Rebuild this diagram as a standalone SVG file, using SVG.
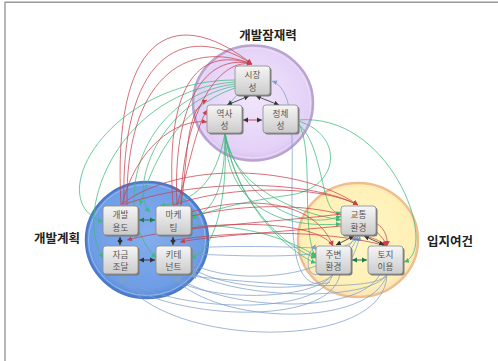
<svg xmlns="http://www.w3.org/2000/svg" width="498" height="361" viewBox="0 0 498 361">
<style>
  .lbl{font-family:"Noto Sans CJK KR","Noto Sans",sans-serif;font-weight:700;font-size:12.5px;fill:#222;text-anchor:middle}
  .nt{font-family:"Noto Sans CJK KR","Noto Sans",sans-serif;font-size:8.6px;fill:#555;text-anchor:middle}
  .box{fill:url(#gBox);stroke:#8a8a8a;stroke-width:0.8}
  .sh{fill:#7a7a7a}
  .r path{fill:none;stroke:#c8404c;stroke-width:0.75;marker-end:url(#aR)}
  .g path{fill:none;stroke:#3dba7c;stroke-width:0.75;marker-end:url(#aG)}
  .b path{fill:none;stroke:#7f9fca;stroke-width:0.75;marker-end:url(#aB)}
  .d path{fill:none;stroke-width:0.9;marker-start:url(#aK);marker-end:url(#aK)}
  .dg path{fill:none;stroke:#1f7a4e;stroke-width:1;marker-start:url(#aDG);marker-end:url(#aDG)}
</style>
<defs>
  <linearGradient id="gBox" x1="0" y1="0" x2="0" y2="1">
    <stop offset="0" stop-color="#f6f6f6"/>
    <stop offset="1" stop-color="#cbcbcb"/>
  </linearGradient>
  <radialGradient id="gPur" cx="0.5" cy="0.45" r="0.55">
    <stop offset="0" stop-color="#f1e6fc"/>
    <stop offset="0.85" stop-color="#e4d1f7"/>
    <stop offset="1" stop-color="#d8c1ef"/>
  </radialGradient>
  <radialGradient id="gBlu" cx="0.5" cy="0.45" r="0.55">
    <stop offset="0" stop-color="#84aeee"/>
    <stop offset="0.85" stop-color="#6e9de6"/>
    <stop offset="1" stop-color="#5c8bd8"/>
  </radialGradient>
  <radialGradient id="gYel" cx="0.5" cy="0.45" r="0.55">
    <stop offset="0" stop-color="#fff7c8"/>
    <stop offset="0.85" stop-color="#fff0b4"/>
    <stop offset="1" stop-color="#fde3b4"/>
  </radialGradient>
  <marker id="aR" markerUnits="userSpaceOnUse" markerWidth="6" markerHeight="6" refX="5" refY="3" orient="auto"><path d="M0,0.5 L5,3 L0,5.5z" fill="#c8404c"/></marker>
  <marker id="aG" markerUnits="userSpaceOnUse" markerWidth="6" markerHeight="6" refX="5" refY="3" orient="auto"><path d="M0,0.5 L5,3 L0,5.5z" fill="#3dba7c"/></marker>
  <marker id="aB" markerUnits="userSpaceOnUse" markerWidth="6" markerHeight="6" refX="5" refY="3" orient="auto"><path d="M0,0.5 L5,3 L0,5.5z" fill="#7f9fca"/></marker>
  <marker id="aK" markerUnits="userSpaceOnUse" markerWidth="6" markerHeight="6" refX="5" refY="3" orient="auto-start-reverse"><path d="M0,0.5 L5,3 L0,5.5z" fill="#333"/></marker>
  <marker id="aDG" markerUnits="userSpaceOnUse" markerWidth="6" markerHeight="6" refX="5" refY="3" orient="auto-start-reverse"><path d="M0,0.5 L5,3 L0,5.5z" fill="#1f7a4e"/></marker>
</defs>

<rect width="498" height="361" fill="#fff"/>
<!-- frame -->
<path d="M5,361 V2.2 H498" fill="none" stroke="#9a9a9a" stroke-width="1.4"/>

<!-- group circles -->
<g id="circles">
  <ellipse cx="253" cy="103" rx="60" ry="57.5" fill="url(#gPur)" stroke="#b9a4cf" stroke-width="2.5"/>
  <ellipse cx="253" cy="103" rx="57.5" ry="55" fill="none" stroke="#ecdff8" stroke-width="1"/>
  <ellipse cx="147" cy="240" rx="61" ry="58" fill="url(#gBlu)" stroke="#4b7bc8" stroke-width="2.5"/>
  <ellipse cx="147" cy="240" rx="58.5" ry="55.5" fill="none" stroke="#95b9f0" stroke-width="1"/>
  <ellipse cx="358" cy="240" rx="60" ry="57" fill="url(#gYel)" stroke="#eebf8c" stroke-width="2.5"/>
  <ellipse cx="358" cy="240" rx="57.5" ry="54.5" fill="none" stroke="#fbe6c6" stroke-width="1"/>
</g>

<g id="connectors">
  <g class="b">
    <path d="M333,274 C320,318 170,312 120,277"/>
    <path d="M387,274 C386,352 168,350 120,277"/>
    <path d="M340,274 C330,330 160,318 120,279"/>
    <path d="M333,274 C315,302 200,302 173,277"/>
    <path d="M387,274 C372,328 218,326 173,277"/>
    <path d="M380,274 C360,315 230,312 176,277"/>
    <path d="M333,274 C320,293 230,292 191,268"/>
    <path d="M387,274 C372,302 240,300 191,272"/>
    <path d="M316,266 C280,280 220,280 191,263"/>
    <path d="M316,248 C270,246 220,246 191,248"/>
    <path d="M358,235 C345,262 250,256 191,254"/>
    <path d="M387,274 C380,290 300,288 191,276"/>
    <path d="M330,282 C300,292 292,262 292,200 C292,140 296,90 272,81"/>
    <path d="M340,256 C348,248 352,242 356,236"/>
    <path d="M345,258 C350,250 355,244 358,236"/>
    <path d="M350,262 C355,252 358,244 360,236"/>
    <path d="M320,274 C300,280 310,240 316,250"/>
  </g>
  <g class="g">
    <path d="M235,80 C110,80 40,200 103,222"/>
    <path d="M235,82 C120,90 72,210 103,258"/>
    <path d="M235,84 C140,95 108,210 156,258"/>
    <path d="M235,86 C160,100 128,190 150,212"/>
    <path d="M235,88 C175,108 150,170 140,205"/>
    <path d="M225,133 C225,185 215,212 191,218"/>
    <path d="M225,133 C228,200 215,250 191,258"/>
    <path d="M225,133 C232,185 290,212 341,220"/>
    <path d="M225,133 C235,205 290,250 316,258"/>
    <path d="M225,133 C238,215 300,258 316,263"/>
    <path d="M225,133 C226,190 260,230 341,224"/>
    <path d="M225,133 C240,200 300,232 341,216"/>
    <path d="M225,133 C218,170 205,200 160,206"/>
    <path d="M298,120 C392,112 440,250 404,262"/>
    <path d="M298,122 C315,150 300,230 316,258"/>
    <path d="M298,121 C345,135 340,188 290,195 C240,202 205,212 191,218"/>
    <path d="M191,225 C250,225 290,240 316,256"/>
    <path d="M298,124 C325,145 320,220 341,212"/>
    <path d="M237,95 L228,105"/>
  </g>
  <g class="r">
    <path d="M121,205 C112,40 170,0 252,64"/>
    <path d="M124,205 C120,60 180,18 252,64"/>
    <path d="M127,205 C125,80 185,38 252,64"/>
    <path d="M173,205 C165,90 195,45 252,64"/>
    <path d="M177,205 C172,105 205,52 252,64"/>
    <path d="M181,205 C182,120 215,58 252,64"/>
    <path d="M122,205 C135,150 175,118 207,122"/>
    <path d="M181,205 C188,160 185,110 207,100"/>
    <path d="M177,205 C190,165 195,130 207,110"/>
    <path d="M122,204 C180,160 300,165 358,205"/>
    <path d="M125,204 C200,178 310,180 358,205"/>
    <path d="M173,205 C230,185 320,185 358,205"/>
    <path d="M191,212 C250,195 315,200 333,246"/>
    <path d="M191,216 C270,198 370,205 387,246"/>
    <path d="M175,240 C230,232 320,228 387,246"/>
    <path d="M191,228 C250,220 320,225 333,246"/>
    <path d="M341,214 C280,222 180,226 127,240"/>
    <path d="M341,226 C280,232 210,236 180,242"/>
    <path d="M372,221 C384,226 388,236 387,246"/>
    <path d="M362,235 C372,238 380,240 386,246"/>
  </g>
  <g class="d">
    <path d="M249,96 L227,105" stroke="#444"/>
    <path d="M256,96 L279,105" stroke="#444"/>
    <path d="M243,120 L262,120" stroke="#b8404a"/>
    <path d="M120,237 L120,245" stroke="#333"/>
    <path d="M173,237 L173,245" stroke="#333"/>
    <path d="M139,260 L155,260" stroke="#333"/>
    <path d="M354,236 L336,245" stroke="#444"/>
    <path d="M364,236 L384,245" stroke="#444"/>
  </g>
  <g class="dg">
    <path d="M139,220 L155,220"/>
    <path d="M352,260 L367,260"/>
  </g>
</g>

<!-- nodes -->
<g id="n-sijang"><rect class="sh" x="236.5" y="67.5" width="35" height="29" rx="3"/><rect class="box" x="235" y="66" width="35" height="29" rx="3"/><text class="nt" x="252.5" y="78">시장</text><text class="nt" x="252.5" y="90.5">성</text></g>
<g id="n-yeoksa"><rect class="sh" x="208.5" y="106.5" width="35" height="28" rx="3"/><rect class="box" x="207" y="105" width="35" height="28" rx="3"/><text class="nt" x="224.5" y="116.5">역사</text><text class="nt" x="224.5" y="129">성</text></g>
<g id="n-jeongche"><rect class="sh" x="264.5" y="106.5" width="35" height="28" rx="3"/><rect class="box" x="263" y="105" width="35" height="28" rx="3"/><text class="nt" x="280.5" y="116.5">정체</text><text class="nt" x="280.5" y="129">성</text></g>
<g id="n-gaebal"><rect class="sh" x="104.5" y="207.5" width="35" height="29" rx="3"/><rect class="box" x="103" y="206" width="35" height="29" rx="3"/><text class="nt" x="120.5" y="218">개발</text><text class="nt" x="120.5" y="230.5">용도</text></g>
<g id="n-marketing"><rect class="sh" x="157.5" y="207.5" width="35" height="29" rx="3"/><rect class="box" x="156" y="206" width="35" height="29" rx="3"/><text class="nt" x="173.5" y="218">마케</text><text class="nt" x="173.5" y="230.5">팅</text></g>
<g id="n-jageum"><rect class="sh" x="104.5" y="247.5" width="35" height="28" rx="3"/><rect class="box" x="103" y="246" width="35" height="28" rx="3"/><text class="nt" x="120.5" y="257.5">자금</text><text class="nt" x="120.5" y="270">조달</text></g>
<g id="n-tenant"><rect class="sh" x="157.5" y="247.5" width="35" height="28" rx="3"/><rect class="box" x="156" y="246" width="35" height="28" rx="3"/><text class="nt" x="173.5" y="257.5">키테</text><text class="nt" x="173.5" y="270">넌트</text></g>
<g id="n-gyotong"><rect class="sh" x="342.5" y="207.5" width="35" height="29" rx="3"/><rect class="box" x="341" y="206" width="35" height="29" rx="3"/><text class="nt" x="358.5" y="218">교통</text><text class="nt" x="358.5" y="230.5">환경</text></g>
<g id="n-jubyeon"><rect class="sh" x="317.5" y="247.5" width="35" height="28" rx="3"/><rect class="box" x="316" y="246" width="35" height="28" rx="3"/><text class="nt" x="333.5" y="257.5">주변</text><text class="nt" x="333.5" y="270">환경</text></g>
<g id="n-toji"><rect class="sh" x="369.5" y="247.5" width="35" height="28" rx="3"/><rect class="box" x="368" y="246" width="35" height="28" rx="3"/><text class="nt" x="385.5" y="257.5">토지</text><text class="nt" x="385.5" y="270">이용</text></g>

<!-- group titles -->
<text class="lbl" x="268" y="40">개발잠재력</text>
<text class="lbl" x="57" y="243">개발계획</text>
<text class="lbl" x="450" y="246">입지여건</text>
</svg>
